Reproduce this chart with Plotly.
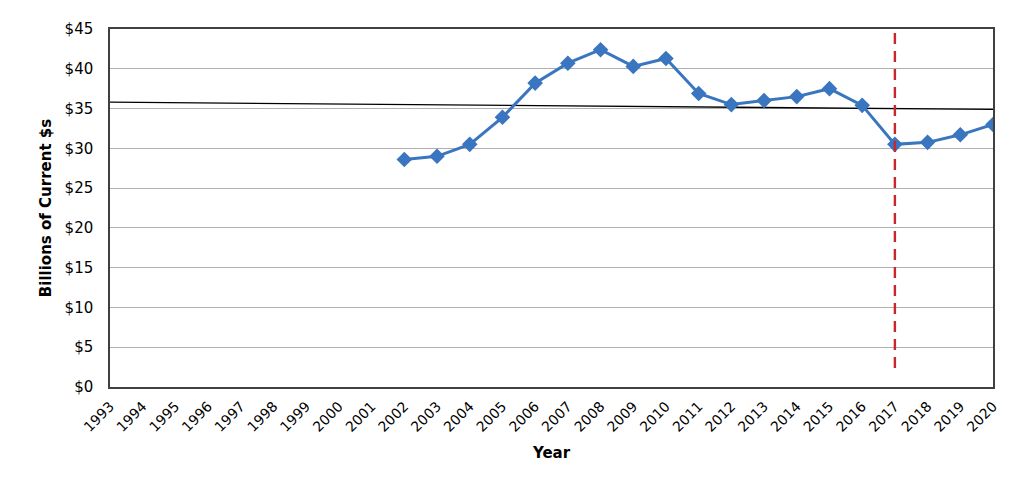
import plotly.graph_objects as go

# years on the category axis
years = list(range(1993, 2021))

# spending series, billions of current dollars
data_years = list(range(2002, 2021))
values = [28.6, 29.0, 30.5, 33.9, 38.2, 40.7, 42.4, 40.3, 41.3, 36.9,
          35.5, 36.0, 36.5, 37.5, 35.4, 30.5, 30.75, 31.7, 33.0]

# trend line ends
trend_years = [1993, 2020]
trend_values = [35.8, 34.9]

# marker for the 2017 break
break_years = [2017, 2017]
break_values = [44.5, 1.9]

y_ticks = list(range(0, 50, 5))
y_labels = ["$" + str(v) for v in y_ticks]

font = "DejaVu Sans"

fig = go.Figure()

fig.add_trace(go.Scatter(x=trend_years, y=trend_values, mode="lines",
                         line=dict(color="black", width=1.3), hoverinfo="skip"))

fig.add_trace(go.Scatter(x=data_years, y=values, mode="lines+markers",
                         line=dict(color="#3a75c0", width=3),
                         marker=dict(symbol="diamond", size=12, color="#3a75c0")))

fig.add_trace(go.Scatter(x=break_years, y=break_values, mode="lines",
                         line=dict(color="#c8282d", width=2.4, dash="11px,7px"),
                         hoverinfo="skip"))

# page body adds 8px, so margins are shifted to land the plot area where the reference has it
fig.update_layout(
    width=1024, height=495,
    margin=dict(l=102, r=39, t=19, b=116),
    plot_bgcolor="white", paper_bgcolor="white",
    showlegend=False,
    font=dict(family=font, size=14, color="black"),
    xaxis=dict(
        range=[1993, 2020], tickvals=years, ticktext=[str(y) for y in years],
        tickangle=-45, showgrid=False, zeroline=False,
        showline=True, linecolor="#404040", linewidth=1.5, mirror=True,
        ticks="", tickfont=dict(size=14), ticklabelstandoff=4,
        title=dict(text="<b>Year</b>", font=dict(size=15), standoff=14),
    ),
    yaxis=dict(
        range=[0, 45], tickvals=y_ticks, ticktext=y_labels,
        showgrid=True, gridcolor="#b0b0b0", gridwidth=1.3, zeroline=False,
        showline=True, linecolor="#404040", linewidth=1.5, mirror=True,
        ticks="", tickfont=dict(size=15), ticklabelstandoff=12,
        title=dict(text="<b>Billions of Current $s</b>", font=dict(size=15), standoff=9),
    ),
)

fig.write_html("out.html")
